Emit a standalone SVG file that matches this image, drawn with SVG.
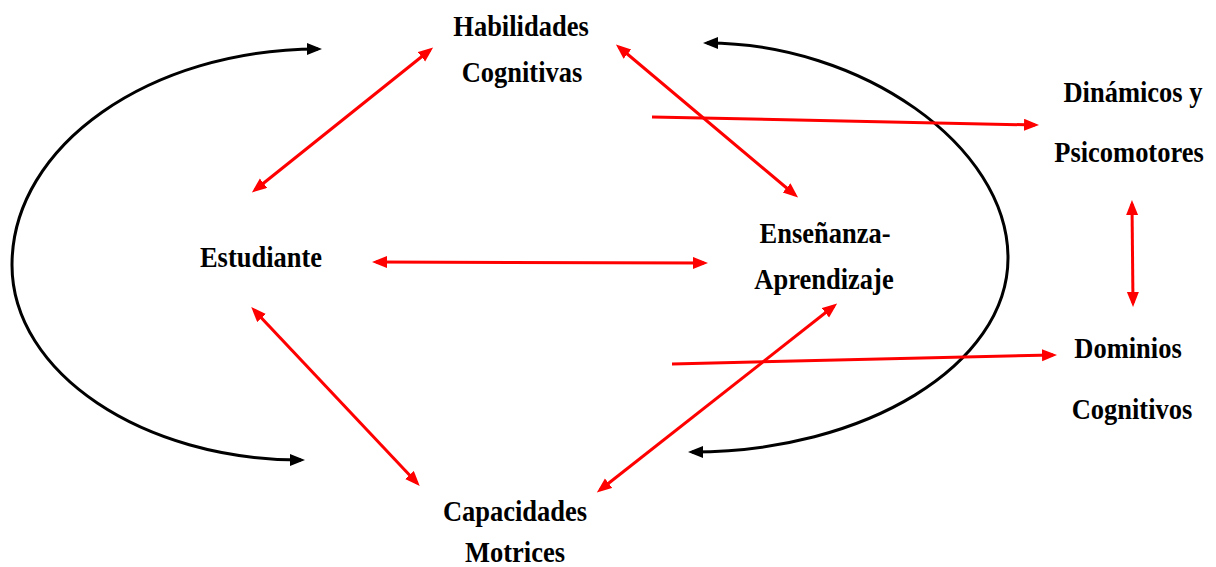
<svg xmlns="http://www.w3.org/2000/svg" width="1216" height="567" viewBox="0 0 1216 567">
<style>
.lbl{font-family:"Liberation Serif","Times New Roman",serif;font-weight:bold;font-size:26.5px;fill:#000;text-anchor:middle}
.red{stroke:#FF0000;stroke-width:3;fill:none}
.blk{stroke:#000;stroke-width:3;fill:none}
</style>
<defs>
<marker id="ar" markerUnits="userSpaceOnUse" markerWidth="16" markerHeight="14" refX="11" refY="6" orient="auto-start-reverse" viewBox="0 0 16 14">
<path d="M0,0 L15,6 L0,12 z" fill="#FF0000"/>
</marker>
<marker id="ab" markerUnits="userSpaceOnUse" markerWidth="16" markerHeight="14" refX="11" refY="6" orient="auto-start-reverse" viewBox="0 0 16 14">
<path d="M0,0 L15,6 L0,12 z" fill="#000"/>
</marker>
</defs>
<g id="connectors">
<path class="blk" d="M301,460 C143,460 12,373 12,265 C12,145 151,49 318,49" marker-start="url(#ab)" marker-end="url(#ab)"/>
<path class="blk" d="M707,43 C860,43 1008,145 1008,258 C1008,365 865,452 692,452" marker-start="url(#ab)" marker-end="url(#ab)"/>
<line class="red" x1="255" y1="190" x2="430" y2="50" marker-start="url(#ar)" marker-end="url(#ar)"/>
<line class="red" x1="619" y1="47" x2="795" y2="195" marker-start="url(#ar)" marker-end="url(#ar)"/>
<line class="red" x1="376" y1="262" x2="704" y2="263" marker-start="url(#ar)" marker-end="url(#ar)"/>
<line class="red" x1="254" y1="310" x2="417" y2="483" marker-start="url(#ar)" marker-end="url(#ar)"/>
<line class="red" x1="834" y1="306" x2="600" y2="490" marker-start="url(#ar)" marker-end="url(#ar)"/>
<line class="red" x1="652" y1="117" x2="1035" y2="125" marker-end="url(#ar)"/>
<line class="red" x1="672" y1="364" x2="1053" y2="355" marker-end="url(#ar)"/>
<line class="red" x1="1132" y1="204" x2="1133" y2="303" marker-start="url(#ar)" marker-end="url(#ar)"/>
</g>
<g id="habilidades">
<text class="lbl" transform="translate(521,36) scale(1,1.1)">Habilidades</text>
<text class="lbl" transform="translate(522,82) scale(1,1.1)">Cognitivas</text>
</g>
<g id="estudiante">
<text class="lbl" transform="translate(261,267) scale(1,1.1)">Estudiante</text>
</g>
<g id="ensenanza">
<text class="lbl" transform="translate(825,243) scale(1,1.1)">Enseñanza-</text>
<text class="lbl" transform="translate(824,289) scale(1,1.1)">Aprendizaje</text>
</g>
<g id="dinamicos">
<text class="lbl" transform="translate(1133,102) scale(1,1.1)">Dinámicos y</text>
<text class="lbl" transform="translate(1129,162) scale(1,1.1)">Psicomotores</text>
</g>
<g id="dominios">
<text class="lbl" transform="translate(1128,358) scale(1,1.1)">Dominios</text>
<text class="lbl" transform="translate(1132,419) scale(1,1.1)">Cognitivos</text>
</g>
<g id="capacidades">
<text class="lbl" transform="translate(515,521) scale(1,1.1)">Capacidades</text>
<text class="lbl" transform="translate(515,562) scale(1,1.1)">Motrices</text>
</g>
</svg>
